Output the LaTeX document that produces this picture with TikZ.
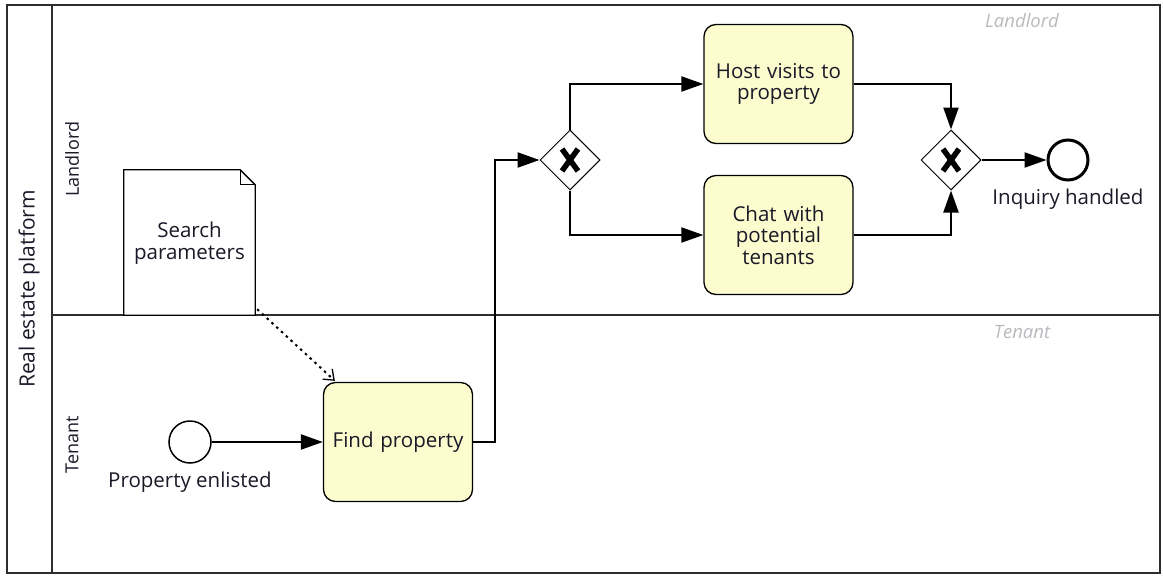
\documentclass[tikz,border=0pt]{standalone}
\usepackage{fontspec}
\setmainfont{Open Sans}
\usetikzlibrary{arrows.meta,shapes.geometric,calc}
\definecolor{taskfill}{RGB}{252,252,206}
\definecolor{txt}{RGB}{25,25,40}
\definecolor{lanegray}{RGB}{185,185,190}
\definecolor{poolline}{RGB}{45,45,45}
\tikzset{
  pooledge/.style={draw=poolline,line width=1.5pt},
  task/.style={draw=black,line width=1.3pt,rounded corners=12pt,fill=taskfill,
    minimum width=149pt,minimum height=119pt,text width=140pt,align=center,
    font=\fontsize{20.5}{21.5}\selectfont,text=txt,inner sep=0pt},
  gateway/.style={diamond,draw=black,line width=1pt,fill=white,minimum width=60pt,minimum height=60pt,inner sep=0pt},
  startev/.style={circle,draw=black,line width=1.5pt,fill=white,minimum size=42pt,inner sep=0pt},
  endev/.style={circle,draw=black,line width=3pt,fill=white,minimum size=40pt,inner sep=0pt},
  flow/.style={draw=black,line width=2.2pt,-{Triangle[length=22pt,width=15pt]}},
  assoc/.style={draw=black,line width=2pt,dash pattern=on 2.5pt off 4pt,-{Straight Barb[length=9pt,width=14pt,line width=1.3pt]}},
  evlabel/.style={font=\fontsize{20.5}{22}\selectfont,text=txt,inner sep=0pt},
  lanelabel/.style={font=\fontsize{18}{21}\selectfont,text=txt,rotate=90,inner sep=0pt},
  watermark/.style={font=\itshape\fontsize{18.5}{21}\selectfont,text=lanegray,inner sep=0pt},
}
\begin{document}
\begin{tikzpicture}[x=1pt,y=-1pt]
\useasboundingbox (0,0) rectangle (1163,576);
% pool and lanes
\draw[pooledge] (7,5) rectangle (1160,573);
\draw[pooledge] (52,5) -- (52,573);
\draw[pooledge] (52,315) -- (1160,315);
\node[lanelabel,font=\fontsize{21}{24}\selectfont] (pool) at (29,289) {Real estate platform};
\node[lanelabel] (llane) at (72,159) {Landlord};
\node[lanelabel] (tlane) at (72,445) {Tenant};
\node[watermark] (lwm) at (1022,21) {Landlord};
\node[watermark] (twm) at (1022,332) {Tenant};
% data object
\node[minimum width=131pt,minimum height=145pt,inner sep=0pt] (data) at (189.5,242.5) {};
\draw[draw=black,line width=1.3pt,fill=white]
  (data.north west) -- ($(data.north east)+(-15,0)$) -- ($(data.north east)+(0,15)$)
  -- (data.south east) -- (data.south west) -- cycle;
\draw[draw=black,line width=1.3pt] ($(data.north east)+(-15,0)$) -- ($(data.north east)+(-15,15)$) -- ($(data.north east)+(0,15)$);
\node[align=center,font=\fontsize{20.5}{21.5}\selectfont,text=txt] (datatxt) at (189.5,243) {Search\\parameters};
% events and tasks
\node[startev] (start) at (190,442) {};
\node[evlabel] (startlbl) at (190,482) {Property enlisted};
\node[task] (find) at (398,442) {Find property};
\node[gateway] (gw1) at (570,160) {};
\node[task] (host) at (778.5,84) {Host visits to\\property};
\node[task] (chat) at (778.5,235) {Chat with\\potential\\tenants};
\node[gateway] (gw2) at (951,160) {};
\node[endev] (end) at (1068,160) {};
\node[evlabel] (endlbl) at (1068,199) {Inquiry handled};
% gateway X marks
\foreach \g in {gw1,gw2}{
  \draw[line width=5.5pt] ($(\g)+(-8,-11)$) -- ($(\g)+(8,11)$);
  \draw[line width=5.5pt] ($(\g)+(8,-11)$) -- ($(\g)+(-8,11)$);
}
% flows
\draw[flow] (start) -- (find);
\draw[flow] (find.east) -- ++(22,0) |- (gw1.west);
\draw[flow] (gw1.north) |- (host.west);
\draw[flow] (gw1.south) |- (chat.west);
\draw[flow] (host.east) -| (gw2.north);
\draw[flow] (chat.east) -| (gw2.south);
\draw[flow] (gw2.east) -- (end.west);
\coordinate (assocstart) at ($(data.south east)+(2,-6)$);
\draw[assoc] (assocstart) -- ($(find.north west)+(12,-1)$);
\end{tikzpicture}
\end{document}
